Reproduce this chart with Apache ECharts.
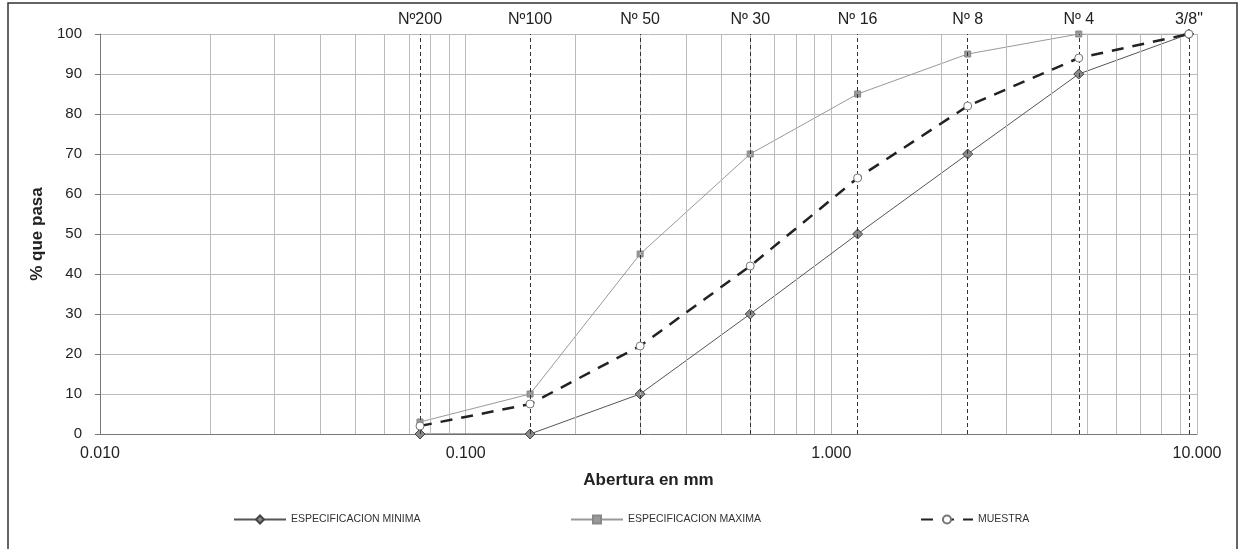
<!DOCTYPE html>
<html>
<head>
<meta charset="utf-8">
<script src="https://cdn.jsdelivr.net/npm/echarts@6/dist/echarts.min.js"></script>
<style>html,body{margin:0;padding:0;background:#fff}#c{width:1245px;height:549px}</style>
</head>
<body>
<div id="c"></div>
<script>
const sieveSizes = [0.075, 0.15, 0.3, 0.6, 1.18, 2.36, 4.75, 9.5];
const sieveLabels = ['Nº200', 'Nº100', 'Nº 50', 'Nº 30', 'Nº 16', 'Nº 8', 'Nº 4', '3/8"'];
const minSpec = [0, 0, 10, 30, 50, 70, 90, 100];
const maxSpec = [3, 10, 45, 70, 85, 95, 100, 100];
const muestra = [2, 7.5, 22, 42, 64, 82, 94, 100];
const minorGrid = [0.02,0.03,0.04,0.05,0.06,0.07,0.08,0.09,0.2,0.3,0.4,0.5,0.6,0.7,0.8,0.9,2,3,4,5,6,7,8,9];
const yTicks = {min: 0, max: 100, interval: 10};

const pairs = v => sieveSizes.map((s, i) => [s, v[i]]);
const font = 'Liberation Sans, Arial, sans-serif';

const chart = echarts.init(document.getElementById('c'));
const legendCommon = {
  top: 509, itemWidth: 52, itemHeight: 10, itemGap: 4,
  textStyle: {fontFamily: font, fontSize: 10.5, color: '#333'}
};
chart.setOption({
  animation: false,
  backgroundColor: '#fff',
  graphic: [{type: 'rect', shape: {x: 8, y: 3, width: 1229, height: 570}, style: {fill: 'none', stroke: '#333', lineWidth: 1.5}, silent: true}],
  grid: {left: 100, right: 48, top: 34, bottom: 115, containLabel: false},
  legend: [
    Object.assign({left: 228, data: ['ESPECIFICACION MINIMA']}, legendCommon),
    Object.assign({left: 565, data: ['ESPECIFICACION MAXIMA']}, legendCommon),
    Object.assign({left: 915, data: ['MUESTRA']}, legendCommon)
  ],
  xAxis: {
    type: 'log', logBase: 10, min: 0.01, max: 10,
    name: 'Abertura en mm', nameLocation: 'middle', nameGap: 38,
    nameTextStyle: {fontFamily: font, fontSize: 17, fontWeight: 'bold', color: '#222'},
    axisLine: {show: true, lineStyle: {color: '#777', width: 1}},
    axisTick: {show: false},
    axisLabel: {formatter: v => v.toFixed(3), fontFamily: font, fontSize: 16, color: '#222', margin: 12},
    splitLine: {show: true, lineStyle: {color: '#bbb', width: 1}}
  },
  yAxis: {
    type: 'value', min: yTicks.min, max: yTicks.max, interval: yTicks.interval,
    name: '% que pasa', nameLocation: 'middle', nameGap: 50, nameRotate: 90,
    nameTextStyle: {fontFamily: font, fontSize: 17, fontWeight: 'bold', color: '#222'},
    axisLine: {show: true, lineStyle: {color: '#777', width: 1}},
    axisTick: {show: true, inside: false, length: 5, lineStyle: {color: '#777'}},
    axisLabel: {fontFamily: font, fontSize: 15, color: '#222', margin: 18},
    splitLine: {show: true, lineStyle: {color: '#bbb', width: 1}}
  },
  series: [
    {
      name: 'grid', type: 'line', data: [], z: 1, silent: true,
      markLine: {
        silent: true, symbol: ['none', 'none'], animation: false,
        label: {show: false},
        lineStyle: {color: '#bbb', width: 1, type: 'solid'},
        data: minorGrid.map(v => ({xAxis: v}))
      }
    },
    {
      name: 'sieves', type: 'line', data: [], z: 2, silent: true,
      markLine: {
        silent: true, symbol: ['none', 'none'], animation: false,
        lineStyle: {color: '#333', width: 1, type: [4, 3]},
        label: {show: true, position: 'end', distance: 6, fontFamily: font, fontSize: 16, color: '#222'},
        data: sieveSizes.map((s, i) => [
          {coord: [s, 0], name: sieveLabels[i], label: {formatter: sieveLabels[i]}},
          {coord: [s, 100]}
        ])
      }
    },
    {
      name: 'ESPECIFICACION MINIMA', type: 'line', z: 4, data: pairs(minSpec),
      symbol: 'diamond', symbolSize: 10,
      lineStyle: {color: '#555', width: 1},
      itemStyle: {color: '#888', borderColor: '#444', borderWidth: 1}
    },
    {
      name: 'ESPECIFICACION MAXIMA', type: 'line', z: 4, data: pairs(maxSpec),
      symbol: 'rect', symbolSize: 6,
      lineStyle: {color: '#999', width: 1},
      itemStyle: {color: '#999', borderColor: '#888', borderWidth: 1}
    },
    {
      name: 'MUESTRA', type: 'line', z: 5, data: pairs(muestra),
      symbol: 'circle', symbolSize: 8,
      lineStyle: {color: '#222', width: 2.5, type: [12, 9]},
      itemStyle: {color: '#fff', borderColor: '#777', borderWidth: 1}
    }
  ]
});
</script>
</body>
</html>
